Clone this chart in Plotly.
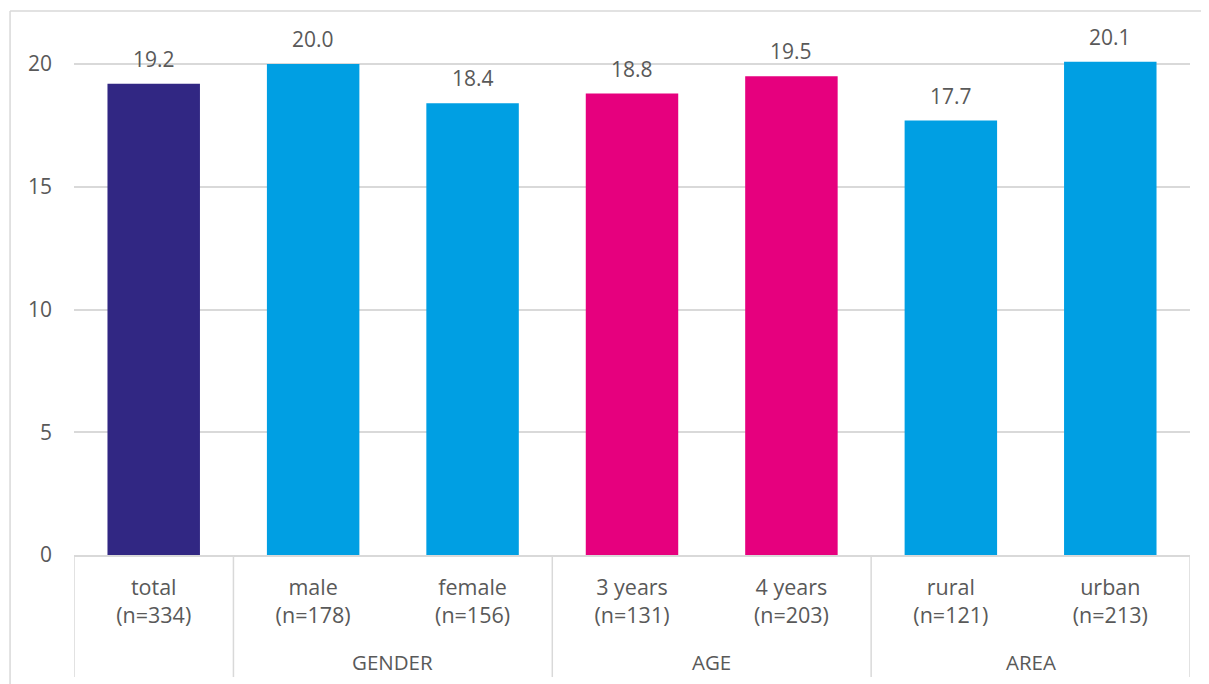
import plotly.graph_objects as go

categories = ["total", "male", "female", "3 years", "4 years", "rural", "urban"]
sample_sizes = ["n=334", "n=178", "n=156", "n=131", "n=203", "n=121", "n=213"]
groups = ["", "GENDER", "GENDER", "AGE", "AGE", "AREA", "AREA"]
values = [19.2, 20.0, 18.4, 18.8, 19.5, 17.7, 20.1]
bar_colors = ["#312783", "#009FE3", "#009FE3", "#E6007E", "#E6007E", "#009FE3", "#009FE3"]
y_ticks = [0, 5, 10, 15, 20]

FONT = "Open Sans"
TXT = "#595959"
LINE = "#D9D9D9"

labels = [f"{c}<br>({n})" for c, n in zip(categories, sample_sizes)]
idx = list(range(len(categories)))

fig = go.Figure()
fig.add_trace(go.Bar(
    x=idx, y=values, marker=dict(color=bar_colors, line=dict(width=0)),
    hoverinfo="skip", showlegend=False,
))

# data labels
for i, v in zip(idx, values):
    fig.add_annotation(x=i, y=v, text=f"{v:.1f}", showarrow=False,
                       xref="x", yref="y", yanchor="middle", yshift=25,
                       font=dict(family=FONT, size=21, color=TXT))

# group dividers and group labels
bounds = [-0.5]
for i in range(1, len(groups)):
    if groups[i] != groups[i - 1]:
        bounds.append(i - 0.5)
bounds.append(len(groups) - 0.5)
for b in bounds:
    fig.add_shape(type="line", xref="x", yref="paper", x0=b, x1=b, y0=0, y1=-0.226,
                  line=dict(color=LINE, width=1.5))

seen = []
for g in groups:
    if g and g not in seen:
        seen.append(g)
for g in seen:
    members = [i for i, gg in enumerate(groups) if gg == g]
    fig.add_annotation(x=sum(members) / len(members), y=-0.198, xref="x", yref="paper",
                       text=g, showarrow=False, yanchor="middle",
                       font=dict(family=FONT, size=20.5, color=TXT))

# chart frame (top and left edges)
fig.add_shape(type="line", xref="paper", yref="paper", x0=-0.0573, x1=1.03, y0=1.0074, y1=1.0074,
              line=dict(color=LINE, width=1.5))
fig.add_shape(type="line", xref="paper", yref="paper", x0=-0.0573, x1=-0.0573, y0=-0.26, y1=1.0074,
              line=dict(color=LINE, width=1.5))

fig.update_layout(
    width=1209, height=684,
    margin=dict(l=66, r=27, t=7, b=137),
    paper_bgcolor="white", plot_bgcolor="white",
    bargap=0.42,
    font=dict(family=FONT, size=21, color=TXT),
    xaxis=dict(
        tickmode="array", tickvals=idx, ticktext=labels,
        range=[-0.5, len(idx) - 0.5],
        showgrid=False, zeroline=False,
        showline=True, linecolor=LINE, linewidth=1.5,
        ticks="", ticklabelstandoff=12,
        tickfont=dict(family=FONT, size=21.5, color=TXT),
    ),
    yaxis=dict(
        range=[0, 22], tickvals=y_ticks,
        showgrid=True, gridcolor=LINE, gridwidth=1.5,
        zeroline=False, showline=False,
        ticks="", ticklabelstandoff=21,
        tickfont=dict(family=FONT, size=21, color=TXT),
    ),
)

fig.write_html("out.html")
